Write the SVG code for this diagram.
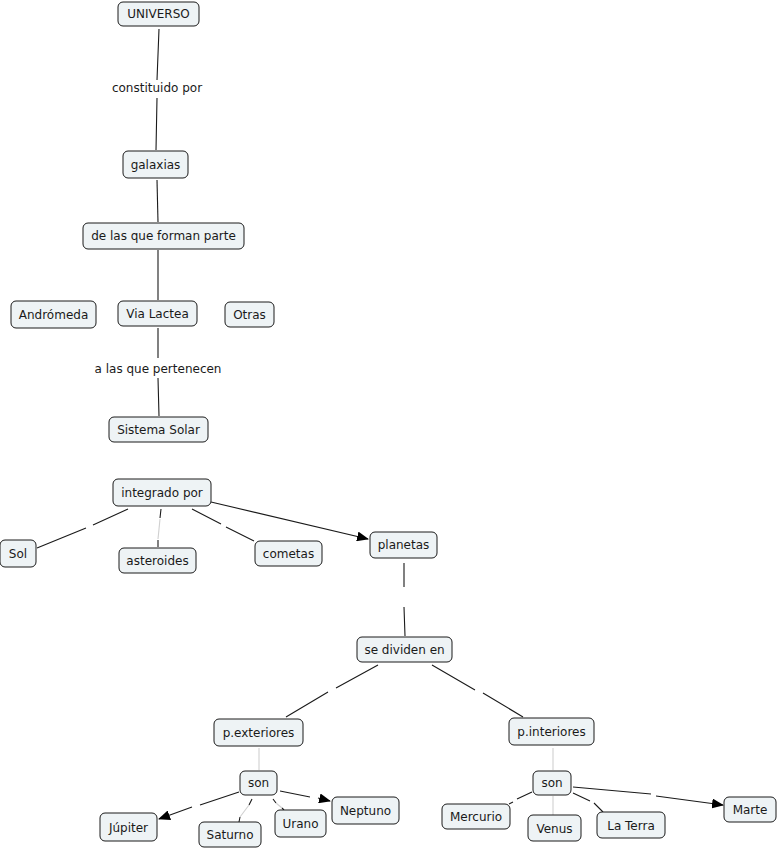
<svg xmlns="http://www.w3.org/2000/svg" width="778" height="849" viewBox="0 0 778 849">
<style>
.n rect{fill:#eef3f5;stroke:#1a1a1a;stroke-width:1;}
text{font-family:"DejaVu Sans",Verdana,sans-serif;font-size:12px;fill:#1a1a1a;text-anchor:middle;}
.c path{fill:none;stroke:#1a1a1a;stroke-width:1.1;}
.c .f{stroke:#d0d0d0;}
</style>
<defs>
<marker id="ah" markerWidth="12" markerHeight="10" refX="11" refY="5" orient="auto" markerUnits="userSpaceOnUse">
<path d="M0,0 L12,5 L0,10 Z" fill="#000"/>
</marker>
</defs>
<rect width="778" height="849" fill="#fff"/>
<g class="c">
<path d="M159,29 L157,80 M157,98 L156,150"/>
<path d="M157,180 L158,222"/>
<path d="M158,250 L158,300"/>
<path d="M158,328 L158,358 M158,378 L159,416"/>
<path d="M128,509 L93,525 M86,528 L37,548"/>
<path d="M161,509 L160,518 M158,540 L158,547"/>
<path class="f" d="M160,519 L158,539"/>
<path d="M192,509 L221,524 M226,527 L254,541"/>
<path d="M211,502 L368,539" marker-end="url(#ah)"/>
<path d="M404,563 L404,587 M404,607 L405,636"/>
<path d="M378,665 L336,688 M328,692 L286,717"/>
<path d="M432,665 L475,690 M483,693 L523,717"/>
<path class="f" d="M259,748 L259,770"/>
<path class="f" d="M553,748 L553,770"/>
<path d="M239,792 L200,805 M192,807 L159,819" marker-end="url(#ah)"/>
<path d="M252,799 L249,805 M240,817 L239,822"/>
<path class="f" d="M249,805 L240,817"/>
<path d="M273,799 L276,803 M282,808 L284,810"/>
<path class="f" d="M276,803 L282,808"/>
<path d="M280,791 L310,797 M318,798 L330,801" marker-end="url(#ah)"/>
<path d="M532,792 L517,799 M513,802 L509,804"/>
<path class="f" d="M553,796 L553,815"/>
<path d="M573,793 L590,801 M594,803 L603,812"/>
<path d="M573,787 L651,794 M656,796 L723,805" marker-end="url(#ah)"/>
</g>
<text x="157" y="92">constituido por</text>
<text x="158" y="373">a las que pertenecen</text>
<g id="universo" class="n"><rect x="118" y="2" width="81" height="24" rx="5"/><text x="158.5" y="18">UNIVERSO</text></g>
<g id="galaxias" class="n"><rect x="123" y="151" width="65" height="27" rx="5"/><text x="155.5" y="169">galaxias</text></g>
<g id="delas" class="n"><rect x="83" y="223" width="161" height="26" rx="5"/><text x="163.5" y="240">de las que forman parte</text></g>
<g id="andromeda" class="n"><rect x="11" y="301" width="85" height="27" rx="5"/><text x="53.5" y="319">Andrómeda</text></g>
<g id="vialactea" class="n"><rect x="118" y="301" width="79" height="25" rx="5"/><text x="157.5" y="318">Via Lactea</text></g>
<g id="otras" class="n"><rect x="225" y="302" width="49" height="25" rx="5"/><text x="249.5" y="319">Otras</text></g>
<g id="sistemasolar" class="n"><rect x="109" y="417" width="99" height="25" rx="5"/><text x="158.5" y="434">Sistema Solar</text></g>
<g id="integrado" class="n"><rect x="113" y="479" width="98" height="27" rx="5"/><text x="162" y="497">integrado por</text></g>
<g id="sol" class="n"><rect x="0" y="540" width="36" height="27" rx="5"/><text x="18" y="558">Sol</text></g>
<g id="asteroides" class="n"><rect x="119" y="548" width="77" height="25" rx="5"/><text x="157.5" y="565">asteroides</text></g>
<g id="cometas" class="n"><rect x="255" y="541" width="67" height="25" rx="5"/><text x="288.5" y="558">cometas</text></g>
<g id="planetas" class="n"><rect x="370" y="532" width="67" height="26" rx="5"/><text x="403.5" y="549">planetas</text></g>
<g id="sedividen" class="n"><rect x="357" y="637" width="95" height="25" rx="5"/><text x="404.5" y="654">se dividen en</text></g>
<g id="pext" class="n"><rect x="214" y="719" width="89" height="27" rx="5"/><text x="258.5" y="737">p.exteriores</text></g>
<g id="pint" class="n"><rect x="509" y="718" width="85" height="27" rx="5"/><text x="551.5" y="736">p.interiores</text></g>
<g id="sonext" class="n"><rect x="240" y="771" width="37" height="24" rx="5"/><text x="258.5" y="787">son</text></g>
<g id="jupiter" class="n"><rect x="100" y="813" width="57" height="28" rx="5"/><text x="128.5" y="832">Júpiter</text></g>
<g id="saturno" class="n"><rect x="199" y="822" width="62" height="25" rx="5"/><text x="230" y="839">Saturno</text></g>
<g id="urano" class="n"><rect x="275" y="810" width="51" height="27" rx="5"/><text x="300.5" y="828">Urano</text></g>
<g id="neptuno" class="n"><rect x="332" y="797" width="67" height="27" rx="5"/><text x="365.5" y="815">Neptuno</text></g>
<g id="sonint" class="n"><rect x="533" y="771" width="38" height="24" rx="5"/><text x="552" y="787">son</text></g>
<g id="mercurio" class="n"><rect x="442" y="804" width="68" height="25" rx="5"/><text x="476" y="821">Mercurio</text></g>
<g id="venus" class="n"><rect x="528" y="815" width="53" height="26" rx="5"/><text x="554.5" y="833">Venus</text></g>
<g id="laterra" class="n"><rect x="597" y="812" width="68" height="26" rx="5"/><text x="631" y="830">La Terra</text></g>
<g id="marte" class="n"><rect x="724" y="797" width="52" height="25" rx="5"/><text x="750" y="814">Marte</text></g>
</svg>
